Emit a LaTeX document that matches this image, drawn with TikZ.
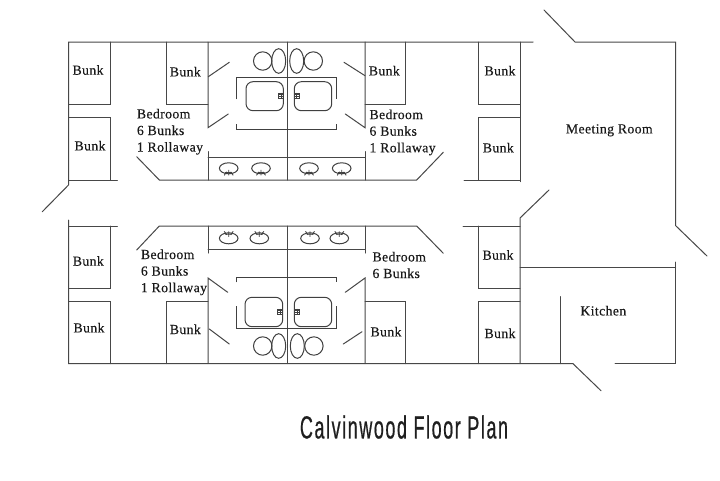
\documentclass[tikz,border=0pt]{standalone}
\usepackage{fontspec}
\setmainfont[LetterSpace=2.6,FakeBold=0.2]{Liberation Serif}
\newfontfamily\titlefont[FakeStretch=0.56,LetterSpace=5,FakeBold=0.5]{Liberation Sans}
\tikzset{
  wall/.style={draw=black!72,line width=1pt,line cap=round,line join=miter},
  fix/.style={draw=black!75,line width=1pt},
  lab/.style={inner sep=0pt,font=\fontsize{13.8}{16.6}\selectfont,text=black!90},
  room/.style={lab,align=left,anchor=west},
  pics/sinkup/.style={code={
    \draw[fix] (0,0) ellipse (9.3 and 5.5);
    \draw[fix,line width=0.85pt] (0,1.5) -- (0,7) (-3.5,4.2) -- (3.5,4.2) (-4.5,7) -- (-2,3.5) (4.5,7) -- (2,3.5);
  }},
  pics/sinkdown/.style={code={
    \draw[fix] (0,0) ellipse (9.3 and 5.5);
    \draw[fix,line width=0.85pt] (0,-1.5) -- (0,-7) (-3.5,-4.2) -- (3.5,-4.2) (-4.5,-7) -- (-2,-3.5) (4.5,-7) -- (2,-3.5);
  }},
  pics/tap/.style={code={
    \draw[fix,line width=0.8pt] (-2.5,-2.5) rectangle (2.5,2.5) (-2.5,-1) -- (3,-1) (-2.5,1) -- (3,1) (0,-3) -- (0,3);
  }},
  pics/toiletleft/.style={code={
    \draw[fix] (-16,0) circle (9.2);
    \draw[fix] (0,0) ellipse (7 and 12.3);
  }},
  pics/toiletright/.style={code={
    \draw[fix] (16.6,0) circle (9.2);
    \draw[fix] (0,0) ellipse (7 and 12.3);
  }},
}
\begin{document}
\begin{tikzpicture}[x=1pt,y=-1pt]
\useasboundingbox[fill=white] (0,0) rectangle (720,480);
% outer shell, upper wing
\draw[wall] (42.3,211.7) -- (68.5,185) -- (68.5,42) -- (533,42);
\draw[wall] (544,10) -- (575,42) -- (675.7,42) -- (675.7,225.7) -- (707,256);
\draw[wall] (520,42) -- (520,181.7);
% outer shell, lower wing
\draw[wall] (68.5,220) -- (68.5,363.7) -- (573,363.7) -- (601,390.7);
\draw[wall] (615,363.7) -- (675.7,363.7) -- (675.7,262);
\draw[wall] (549,190) -- (520,218) -- (520,363.7);
\draw[wall] (520,267.3) -- (675.7,267.3);
\draw[wall] (560,296.7) -- (560,363.7);
% corridor walls
\draw[wall] (68.5,180) -- (117.3,180);
\draw[wall] (136.7,156.7) -- (159.3,180) -- (416.7,180) -- (443.3,152.3);
\draw[wall] (464,180) -- (520,180);
\draw[wall] (68.5,226) -- (117.3,226);
\draw[wall] (136.7,250) -- (159.3,226) -- (416.7,226) -- (443.3,253.3);
\draw[wall] (463,226) -- (520,226);
% bunks
\draw[wall] (110,42) -- (110,104.3) -- (68.5,104.3);
\draw[wall] (68.5,117.7) -- (110,117.7) -- (110,180);
\draw[wall] (166,42) -- (166,104.3) -- (208,104.3);
\draw[wall] (365,104.3) -- (405.7,104.3) -- (405.7,42);
\draw[wall] (520,104.3) -- (478.7,104.3) -- (478.7,42);
\draw[wall] (520,117.7) -- (478.7,117.7) -- (478.7,180);
\draw[wall] (110,226) -- (110,288.3) -- (68.5,288.3);
\draw[wall] (68.5,301.7) -- (110,301.7) -- (110,363.7);
\draw[wall] (166,363.7) -- (166,301.7) -- (208,301.7);
\draw[wall] (365,301.7) -- (405.7,301.7) -- (405.7,363.7);
\draw[wall] (520,288.3) -- (478.7,288.3) -- (478.7,226);
\draw[wall] (520,301.7) -- (478.7,301.7) -- (478.7,363.7);
% upper bath walls and doors
\draw[wall] (287.3,42) -- (287.3,180);
\draw[wall] (208,42) -- (208,127.7) -- (228.3,114);
\draw[wall] (208.3,76.7) -- (229.3,62.3);
\draw[wall] (208,151.7) -- (208,180);
\draw[wall] (365,42) -- (365,127.7) -- (345.3,114);
\draw[wall] (365,75.7) -- (344,62.3);
\draw[wall] (365,151.7) -- (365,180);
\draw[wall] (208,157.3) -- (365,157.3);
% lower bath walls and doors
\draw[wall] (287.3,226) -- (287.3,363.7);
\draw[wall] (208,226) -- (208,253);
\draw[wall] (227.7,292.3) -- (208,278) -- (208,363.7);
\draw[wall] (209.3,329) -- (229.3,344);
\draw[wall] (365,226) -- (365,253);
\draw[wall] (345.3,292.3) -- (365,278) -- (365,363.7);
\draw[wall] (362,331.7) -- (343.3,344);
\draw[wall] (208,249.3) -- (365,249.3);
% upper fixtures
\draw[fix] (236,99.3) -- (236,77.3) -- (336.7,77.3) -- (336.7,99.3);
\draw[fix] (236,124) -- (236,129.3) -- (336.7,129.3) -- (336.7,124);
\draw[fix,rounded corners=7pt] (246,81.7) rectangle (283.3,110.7);
\draw[fix,rounded corners=7pt] (294.3,81.7) rectangle (331.7,110.7);
\pic at (281,95.7) {tap};
\pic at (296.7,95.7) {tap};
\pic at (278.7,61) {toiletleft};
\pic at (296.7,61) {toiletright};
\pic at (228.7,168.3) {sinkup};
\pic at (261,168.3) {sinkup};
\pic at (309,168.3) {sinkup};
\pic at (341.7,168.3) {sinkup};
% lower fixtures
\draw[fix] (236,282.3) -- (236,277.3) -- (336.7,277.3) -- (336.7,282.3);
\draw[fix] (236,306) -- (236,328.3) -- (336.7,328.3) -- (336.7,306);
\draw[fix,rounded corners=7pt] (245,297.3) rectangle (282.7,326.7);
\draw[fix,rounded corners=7pt] (294.3,297.3) rectangle (331.7,326.7);
\pic at (280,311.5) {tap};
\pic at (297,311.5) {tap};
\pic at (278.7,346) {toiletleft};
\pic at (297.3,346) {toiletright};
\pic at (228.7,238.3) {sinkdown};
\pic at (259.3,238.3) {sinkdown};
\pic at (310,238.3) {sinkdown};
\pic at (339.3,238.3) {sinkdown};
% labels
\node[lab] (b1) at (88,70) {Bunk};
\node[lab] (b2) at (90,145.7) {Bunk};
\node[lab] (b3) at (185.3,71.7) {Bunk};
\node[lab] (b4) at (384.3,70.7) {Bunk};
\node[lab] (b5) at (500,70.7) {Bunk};
\node[lab] (b6) at (498.3,147.7) {Bunk};
\node[lab] (b7) at (88.3,261) {Bunk};
\node[lab] (b8) at (89,327.7) {Bunk};
\node[lab] (b9) at (185.3,329.3) {Bunk};
\node[lab] (b10) at (386,331.7) {Bunk};
\node[lab] (b11) at (498,255) {Bunk};
\node[lab] (b12) at (500,333.3) {Bunk};
\node[lab] (kitchen) at (603.3,310.7) {Kitchen};
\node[lab] (meeting) at (609.3,130.3) {Meeting Room};
\node[room] (r1) at (136.7,131.7) {Bedroom\\6 Bunks\\1 Rollaway};
\node[room] (r2) at (369.3,132.4) {Bedroom\\6 Bunks\\1 Rollaway};
\node[room] (r3) at (140.7,272.3) {Bedroom\\6 Bunks\\1 Rollaway};
\node[room] (r4) at (372.3,265) {Bedroom\\6 Bunks};
\node[inner sep=0pt,text=black!88] (title) at (404,427) {\titlefont\fontsize{32}{32}\selectfont Calvinwood Floor Plan};
\end{tikzpicture}
\end{document}
